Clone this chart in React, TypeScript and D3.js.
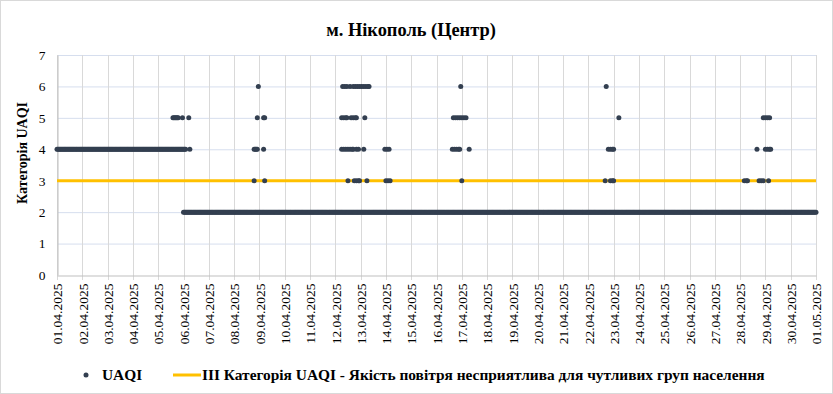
import { useEffect, useRef } from "react";
import * as d3 from "d3";

// hours counted from 01.04.2025 00:00
const baselineRuns = [
  { from: 0, to: 122, value: 4 },
  { from: 120, to: 720, value: 2 },
];

const cat3Hours = [187, 197, 276, 282, 284, 286, 287, 294, 312, 314, 316, 384, 520, 525, 527, 528, 652, 654, 655, 666, 668, 670, 675];
const cat4Hours = [126, 187, 188, 189, 190, 196, 270, 272, 274, 276, 278, 280, 281, 284, 286, 291, 311, 313, 315, 375, 377, 379, 381, 382, 391, 523, 525, 527, 528, 664, 672, 674, 676, 677];
const cat5Hours = [110, 111, 112, 113, 114, 115, 119, 125, 190, 196, 197, 270, 272, 274, 275, 279, 281, 283, 284, 292, 376, 378, 380, 382, 384, 386, 388, 533, 670, 672, 674, 676];
const cat6Hours = [191, 271, 273, 275, 278, 281, 283, 285, 287, 289, 291, 293, 295, 296, 383, 521];

const thresholdValue = 3;
const yTicks = [0, 1, 2, 3, 4, 5, 6, 7];

const title = "м. Нікополь (Центр)";
const yLabel = "Категорія UAQI";
const seriesName = "UAQI";
const thresholdName =
  "III Категорія UAQI - Якість повітря несприятлива для чутливих груп населення";

const startDate = new Date(2025, 3, 1);
const endDate = new Date(2025, 4, 1);

const width = 833;
const height = 394;
const margin = { top: 55, right: 17, bottom: 119, left: 57 };
const font = "Times New Roman, Liberation Serif, DejaVu Serif, serif";

const ScatterChart = () => {
  const svgRef = useRef(null);

  const draw = () => {
    const svg = d3.select(svgRef.current);
    svg.selectAll("*").remove();

    const hourToDate = (h) => new Date(startDate.getTime() + h * 3600 * 1000);

    const points = [];
    baselineRuns.forEach((r) => {
      for (let h = r.from; h <= r.to; h++) points.push({ h, v: r.value });
    });
    [
      [cat3Hours, 3],
      [cat4Hours, 4],
      [cat5Hours, 5],
      [cat6Hours, 6],
    ].forEach(([hours, v]) => hours.forEach((h) => points.push({ h, v })));

    const x = d3
      .scaleTime()
      .domain([startDate, endDate])
      .range([margin.left, width - margin.right]);
    const y = d3
      .scaleLinear()
      .domain([0, 7])
      .range([height - margin.bottom, margin.top]);
    const days = d3.timeDay.range(startDate, d3.timeDay.offset(endDate, 1));

    svg
      .append("rect")
      .attr("x", 0.5)
      .attr("y", 0.5)
      .attr("width", width - 1)
      .attr("height", height - 1)
      .attr("fill", "#fff")
      .attr("stroke", "#d9d9d9");

    // grid
    svg
      .append("g")
      .selectAll("line")
      .data(yTicks.slice(1))
      .enter()
      .append("line")
      .attr("x1", margin.left)
      .attr("x2", width - margin.right)
      .attr("y1", (d) => y(d) + 0.5)
      .attr("y2", (d) => y(d) + 0.5)
      .attr("stroke", "#d6deee");
    svg
      .append("g")
      .selectAll("line")
      .data(days)
      .enter()
      .append("line")
      .attr("x1", (d) => Math.round(x(d)) + 0.5)
      .attr("x2", (d) => Math.round(x(d)) + 0.5)
      .attr("y1", margin.top)
      .attr("y2", height - margin.bottom + 5)
      .attr("stroke", "#d9d9d9");

    // axes
    const yAxis = d3
      .axisLeft(y)
      .tickValues(yTicks)
      .tickSize(0)
      .tickPadding(12)
      .tickFormat(d3.format("d"));
    const gy = svg
      .append("g")
      .attr("transform", `translate(${margin.left + 0.5},0)`)
      .call(yAxis)
      .attr("font-family", font);
    gy.select(".domain").attr("stroke", "#bfbfbf");
    gy.selectAll("text")
      .attr("font-size", 13.5)
      .attr("fill", "#000");

    const xAxis = d3
      .axisBottom(x)
      .tickValues(days)
      .tickSize(0)
      .tickSizeOuter(0)
      .tickFormat(d3.timeFormat("%d.%m.%Y"));
    const gx = svg
      .append("g")
      .attr("transform", `translate(0,${height - margin.bottom + 0.5})`)
      .call(xAxis)
      .attr("font-family", font);
    gx.select(".domain").attr("stroke", "#bfbfbf");
    gx.selectAll("text")
      .attr("font-size", 13.5)
      .attr("fill", "#000")
      .attr("transform", "rotate(-90)")
      .attr("text-anchor", "end")
      .attr("x", -8)
      .attr("y", 0)
      .attr("dy", "0.35em");

    // threshold
    svg
      .append("line")
      .attr("x1", margin.left)
      .attr("x2", width - margin.right)
      .attr("y1", y(thresholdValue))
      .attr("y2", y(thresholdValue))
      .attr("stroke", "#ffc000")
      .attr("stroke-width", 3);

    // points
    svg
      .append("g")
      .selectAll("circle")
      .data(points)
      .enter()
      .append("circle")
      .attr("cx", (d) => x(hourToDate(d.h)))
      .attr("cy", (d) => y(d.v))
      .attr("r", 2.5)
      .attr("fill", "#333f50");

    // title
    svg
      .append("text")
      .attr("x", 411)
      .attr("y", 36)
      .attr("text-anchor", "middle")
      .style("font-family", font)
      .attr("font-size", 18.4)
      .attr("font-weight", "bold")
      .text(title);

    svg
      .append("text")
      .attr("transform", "rotate(-90)")
      .attr("x", -(margin.top + height - margin.bottom) / 2 + 12)
      .attr("y", 27)
      .attr("text-anchor", "middle")
      .style("font-family", font)
      .attr("font-size", 14)
      .attr("font-weight", "bold")
      .text(yLabel);

    // legend
    const legend = svg
      .append("g")
      .attr("transform", "translate(0,375)")
      .style("font-family", font);
    legend.append("circle").attr("cx", 86).attr("cy", 0).attr("r", 2.5).attr("fill", "#333f50");
    legend
      .append("text")
      .attr("x", 102)
      .attr("y", 5)
      .attr("font-size", 15.4)
      .attr("font-weight", "bold")
      .text(seriesName);
    legend
      .append("line")
      .attr("x1", 173)
      .attr("x2", 201)
      .attr("y1", 0)
      .attr("y2", 0)
      .attr("stroke", "#ffc000")
      .attr("stroke-width", 3);
    legend
      .append("text")
      .attr("x", 202)
      .attr("y", 5)
      .attr("font-size", 15.4)
      .attr("font-weight", "bold")
      .text(thresholdName);
  };

  useEffect(() => {
    draw();
  }, []);

  return (
    <svg
      ref={svgRef}
      width={width}
      height={height}
      style={{ position: "absolute", left: 0, top: 0 }}
    ></svg>
  );
};

export default function App() {
  return <ScatterChart />;
}
